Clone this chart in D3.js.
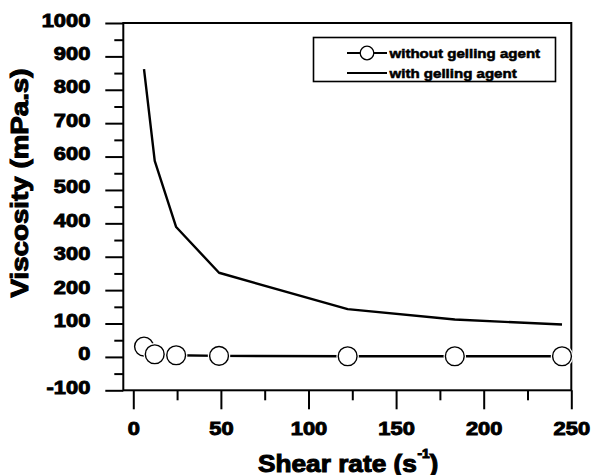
<!DOCTYPE html>
<html>
<head>
<meta charset="utf-8">
<script src="https://cdn.jsdelivr.net/npm/d3@7"></script>
<style>
  html, body { margin: 0; padding: 0; background: #fff; }
  svg { display: block; }
  text { font-family: "Liberation Sans", Arial, sans-serif; font-weight: bold; fill: #000; }
</style>
</head>
<body>
<svg id="chart" width="592" height="475"></svg>
<script>
// ---- data ----
const shearRate = [6.12, 12.24, 24.47, 48.94, 122.35, 183.5, 244.7];
const withoutGel = [31, 8, 5, 3, 2, 2, 2];
const withGel = [862, 587, 389, 252, 143, 112, 97];
const seriesNames = ["without gelling agent", "with gelling agent"];
const xTicks = [0, 50, 100, 150, 200, 250];
const xMinorTicks = [25, 75, 125, 175, 225];
const yTicks = [-100, 0, 100, 200, 300, 400, 500, 600, 700, 800, 900, 1000];
const yMinorTicks = [-50, 50, 150, 250, 350, 450, 550, 650, 750, 850, 950];
const xTitle = "Shear rate (s";
const xTitleSup = "-1";
const yTitle = "Viscosity (mPa.s)";

(function () {
// ---- layout ----
const mLeft = 123.3, mRight = 571.3, mTop = 23, mBottom = 390.3;
const svg = d3.select("#chart");

const x = d3.scaleLinear().domain([-5.7, 250]).range([mLeft, mRight]);
const y = d3.scaleLinear().domain([-100, 1000]).range([mBottom, mTop]);

// minor ticks
svg.append("g").attr("transform", `translate(${mLeft},0)`)
  .call(d3.axisLeft(y).tickValues(yMinorTicks).tickSize(9).tickFormat(""))
  .call(g => g.select(".domain").remove())
  .call(g => g.selectAll("line").attr("stroke-width", 2));
svg.append("g").attr("transform", `translate(0,${mBottom})`)
  .call(d3.axisBottom(x).tickValues(xMinorTicks).tickSize(10).tickFormat(""))
  .call(g => g.select(".domain").remove())
  .call(g => g.selectAll("line").attr("stroke-width", 2));

// major y
svg.append("g").attr("transform", `translate(${mLeft},0)`)
  .call(d3.axisLeft(y).tickValues(yTicks).tickSize(18).tickFormat(d => d))
  .call(g => g.select(".domain").remove())
  .call(g => g.selectAll("line").attr("stroke-width", 2))
  .call(g => g.selectAll("text")
    .attr("x", null).attr("dy", null)
    .attr("text-anchor", "end")
    .attr("font-size", 17.5)
    .attr("fill", "#000")
    .attr("stroke", "#000").attr("stroke-width", 0.9)
    .attr("transform", "translate(-33,3) scale(1.25,1)"));

// major x
svg.append("g").attr("transform", `translate(0,${mBottom})`)
  .call(d3.axisBottom(x).tickValues(xTicks).tickSize(19).tickFormat(d => d))
  .call(g => g.select(".domain").remove())
  .call(g => g.selectAll("line").attr("stroke-width", 2))
  .call(g => g.selectAll("text")
    .attr("y", null).attr("dy", null)
    .attr("text-anchor", "middle")
    .attr("font-size", 17.5)
    .attr("fill", "#000")
    .attr("stroke", "#000").attr("stroke-width", 0.9)
    .attr("transform", "translate(0,44.5) scale(1.25,1)"));

// frame
svg.append("rect")
  .attr("x", mLeft).attr("y", mTop)
  .attr("width", mRight - mLeft).attr("height", mBottom - mTop)
  .attr("fill", "none").attr("stroke", "#000").attr("stroke-width", 2);

// with gelling agent line
const line = d3.line().x((d, i) => x(shearRate[i])).y(d => y(d));
svg.append("path").datum(withGel)
  .attr("d", line)
  .attr("fill", "none").attr("stroke", "#000").attr("stroke-width", 2.4)
  .attr("stroke-linejoin", "round");

// without gelling agent line + circles
svg.append("path").datum(withoutGel)
  .attr("d", line)
  .attr("fill", "none").attr("stroke", "#000").attr("stroke-width", 2.4);
const pts = svg.append("g");
withoutGel.forEach((v, i) => {
  pts.append("circle").attr("cx", x(shearRate[i])).attr("cy", y(v))
    .attr("r", 11.2).attr("fill", "#fff");
  pts.append("circle").attr("cx", x(shearRate[i])).attr("cy", y(v))
    .attr("r", 9.4).attr("fill", "#fff").attr("stroke", "#000").attr("stroke-width", 1.4);
});

// legend
const lg = svg.append("g");
lg.append("rect").attr("x", 313.5).attr("y", 37.5).attr("width", 242).attr("height", 44)
  .attr("fill", "#fff").attr("stroke", "#000").attr("stroke-width", 1.6);
[53, 73].forEach((ly, i) => {
  lg.append("line").attr("x1", 347).attr("x2", 387).attr("y1", ly).attr("y2", ly)
    .attr("stroke", "#000").attr("stroke-width", 2.2);
  if (i === 0) {
    lg.append("circle").attr("cx", 367).attr("cy", ly).attr("r", 6.8)
      .attr("fill", "#fff").attr("stroke", "#000").attr("stroke-width", 1.3);
  }
  lg.append("text").attr("transform", `translate(389.5,${ly + 4.5}) scale(1.16,1)`)
    .attr("font-size", 13).attr("stroke", "#000").attr("stroke-width", 0.55)
    .text(seriesNames[i]);
});

// axis titles
const xt = svg.append("text")
  .attr("transform", "translate(258,471.5) scale(1.14,1)")
  .attr("font-size", 23).attr("stroke", "#000").attr("stroke-width", 1);
xt.append("tspan").text(xTitle);
xt.append("tspan").attr("font-size", 12).attr("dy", -14).attr("dx", 0.5).text(xTitleSup);
xt.append("tspan").attr("dy", 14).attr("dx", 0).text(")");

svg.append("text")
  .attr("transform", "translate(28,183) rotate(-90) scale(1.18,1)")
  .attr("text-anchor", "middle")
  .attr("font-size", 23.5).attr("stroke", "#000").attr("stroke-width", 1)
  .text(yTitle);
})();
</script>
</body>
</html>
